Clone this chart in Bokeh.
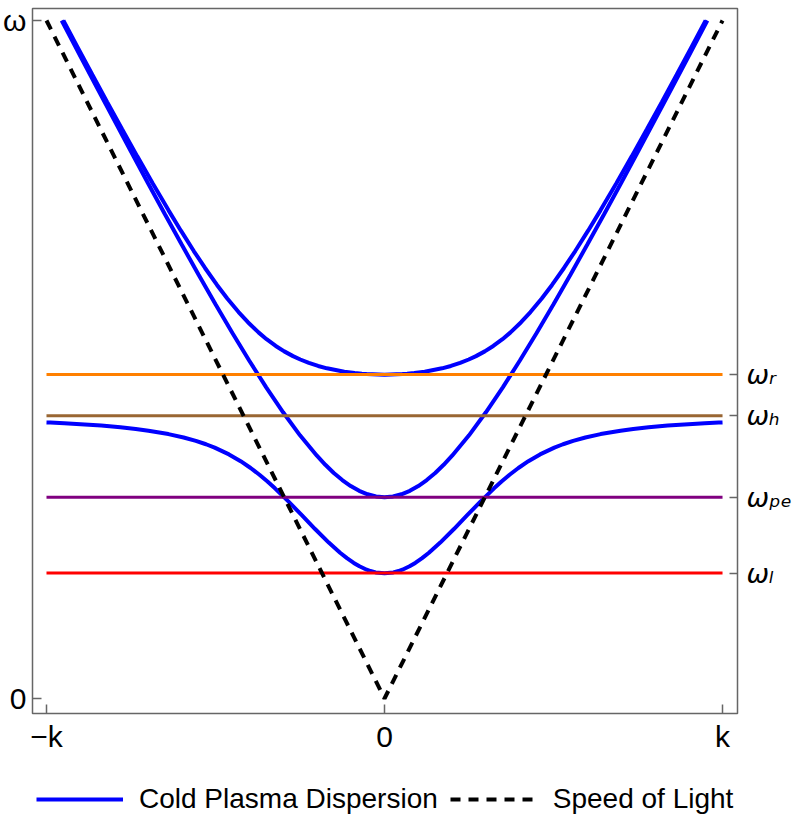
from bokeh.plotting import figure
from bokeh.layouts import column
from bokeh.models import (Range1d, LinearAxis, FixedTicker, Legend, LegendItem)
from bokeh.embed import file_html
from bokeh.resources import INLINE

# ---------------- data ----------------
k_ticks = [-1, 0, 1]
k_tick_labels = ["\u2212k", "0", "k"]
omega_ticks = [0, 1]
omega_tick_labels = ["0", "\u03c9"]

# characteristic frequencies (horizontal lines) and their right-hand labels
level_values = [0.478, 0.417, 0.297, 0.185]
level_labels = ["\u03c9\u1d63", "\u03c9\u2095", "\u03c9\u209a\u2091", "\u03c9\u2097"]
level_colors = ["#FF8000", "#996633", "#800080", "#FF0000"]
level_k = [-1, 1]

# speed of light
light_k = [-1, 0, 1]
light_omega = [1, 0, 1]

# O-mode branch (starts at omega_pe)
o_k = [-0.955, -0.9, -0.85, -0.8, -0.75, -0.7, -0.65, -0.6, -0.55, -0.5, -0.45, -0.4, -0.35, -0.3, -0.25,
       -0.2, -0.175, -0.15, -0.125, -0.1, -0.075, -0.05, -0.025,
       0.0,
       0.025, 0.05, 0.075, 0.1, 0.125, 0.15, 0.175, 0.2,
       0.25, 0.3, 0.35, 0.4, 0.45, 0.5, 0.55, 0.6, 0.65, 0.7, 0.75, 0.8, 0.85, 0.9, 0.955]
o_omega = [1.0, 0.9477, 0.9004, 0.8534, 0.8067, 0.7604, 0.7146, 0.6695, 0.6251, 0.5816, 0.5392, 0.4982, 0.4590, 0.4222, 0.3882,
           0.3581, 0.3447, 0.3327, 0.3222, 0.3134, 0.3063, 0.3012, 0.2981,
           0.2970,
           0.2981, 0.3012, 0.3063, 0.3134, 0.3222, 0.3327, 0.3447, 0.3581,
           0.3882, 0.4222, 0.4590, 0.4982, 0.5392, 0.5816, 0.6251, 0.6695, 0.7146, 0.7604, 0.8067, 0.8534, 0.9004, 0.9477, 1.0]

# X-mode upper branch (starts at omega_r)
xu_k = [-0.9501, -0.9073, -0.8643, -0.8207, -0.7766, -0.7318, -0.6860, -0.6389, -0.6023, -0.5643, -0.5310, -0.4956,
        -0.4652, -0.4318, -0.4041, -0.3728, -0.3490, -0.3218, -0.2966, -0.2707, -0.2491, -0.2238, -0.1964, -0.1702,
        -0.1189, -0.0882, -0.0671, -0.0531,
        0.0,
        0.0531, 0.0671, 0.0882, 0.1189, 0.1702, 0.1964, 0.2238, 0.2491, 0.2707, 0.2966, 0.3218, 0.3490, 0.3728,
        0.4041, 0.4318, 0.4652, 0.4956, 0.5310, 0.5643, 0.6023, 0.6389, 0.6860, 0.7318, 0.7766, 0.8207, 0.8643,
        0.9073, 0.9501]
xu_omega = [1.0, 0.96, 0.92, 0.88, 0.84, 0.80, 0.76, 0.72, 0.69, 0.66, 0.635, 0.61,
            0.59, 0.57, 0.555, 0.54, 0.53, 0.52, 0.512, 0.505, 0.50, 0.495, 0.4905, 0.487,
            0.482, 0.480, 0.479, 0.4785,
            0.4777,
            0.4785, 0.479, 0.480, 0.482, 0.487, 0.4905, 0.495, 0.50, 0.505, 0.512, 0.52, 0.53, 0.54,
            0.555, 0.57, 0.59, 0.61, 0.635, 0.66, 0.69, 0.72, 0.76, 0.80, 0.84, 0.88, 0.92,
            0.96, 1.0]

# X-mode lower branch (starts at omega_l, tends to omega_h)
xl_k = [-1.0, -0.9888, -0.9474, -0.9113, -0.8379, -0.7813, -0.7359, -0.6984, -0.6393, -0.5943, -0.5581, -0.5281,
        -0.5025, -0.4601, -0.4256, -0.3961, -0.3700, -0.3462, -0.3241, -0.2830, -0.2440, -0.2054, -0.1649, -0.1314,
        -0.1112, -0.0910, -0.0741, -0.0527, -0.0416, -0.0262,
        0.0,
        0.0262, 0.0416, 0.0527, 0.0741, 0.0910, 0.1112, 0.1314, 0.1649, 0.2054, 0.2440, 0.2830, 0.3241, 0.3462,
        0.3700, 0.3961, 0.4256, 0.4601, 0.5025, 0.5281, 0.5581, 0.5943, 0.6393, 0.6984, 0.7359, 0.7813, 0.8379,
        0.9113, 0.9474, 0.9888, 1.0]
xl_omega = [0.4072, 0.407, 0.406, 0.405, 0.4025, 0.400, 0.3975, 0.395, 0.390, 0.385, 0.380, 0.375,
            0.370, 0.360, 0.350, 0.340, 0.330, 0.320, 0.310, 0.290, 0.270, 0.250, 0.230, 0.215,
            0.207, 0.200, 0.195, 0.190, 0.188, 0.186,
            0.1847,
            0.186, 0.188, 0.190, 0.195, 0.200, 0.207, 0.215, 0.230, 0.250, 0.270, 0.290, 0.310, 0.320,
            0.330, 0.340, 0.350, 0.360, 0.370, 0.375, 0.380, 0.385, 0.390, 0.395, 0.3975, 0.400, 0.4025,
            0.405, 0.406, 0.407, 0.4072]

legend_labels = ["Cold Plasma Dispersion", "Speed of Light"]

# ---------------- styling ----------------
FONT = "Liberation Sans"
BLUE = "#0000FF"
FRAME = "#666666"
x_start, x_end = -1.0414, 1.0443
y_start, y_end = -0.0221, 1.0177

fig = figure(width=797, height=770, output_backend="svg", toolbar_location=None,
             x_range=Range1d(x_start, x_end), y_range=Range1d(y_start, y_end),
             min_border_left=31, min_border_right=60, min_border_top=8, min_border_bottom=57)
fig.grid.grid_line_color = None
fig.outline_line_color = FRAME
fig.outline_line_width = 1.5
fig.background_fill_color = "white"
fig.border_fill_color = "white"

for ax in (fig.xaxis[0], fig.yaxis[0]):
    ax.axis_line_color = None
    ax.axis_label = None
    ax.major_tick_in = 9
    ax.major_tick_out = 0
    ax.minor_tick_line_color = None
    ax.major_tick_line_color = FRAME
    ax.major_tick_line_width = 1.5
    ax.major_label_text_font = FONT
    ax.major_label_text_font_size = "30px"
    ax.major_label_text_color = "black"

fig.xaxis[0].ticker = FixedTicker(ticks=k_ticks)
fig.xaxis[0].major_label_overrides = dict(zip(k_ticks, k_tick_labels))
fig.xaxis[0].major_label_standoff = 6
fig.yaxis[0].ticker = FixedTicker(ticks=omega_ticks)
fig.yaxis[0].major_label_overrides = dict(zip(omega_ticks, omega_tick_labels))
fig.yaxis[0].major_label_standoff = 6

right_axis = LinearAxis(ticker=FixedTicker(ticks=level_values),
                        major_label_overrides=dict(zip(level_values, level_labels)),
                        axis_line_color=None, major_tick_in=8, major_tick_out=0,
                        minor_tick_line_color=None, major_tick_line_color=FRAME,
                        major_tick_line_width=1.5, major_label_standoff=9,
                        major_label_text_font="DejaVu Sans", major_label_text_font_style="italic",
                        major_label_text_font_size="27px", major_label_text_color="black")
fig.add_layout(right_axis, "right")

# ---------------- glyphs ----------------
fig.line(o_k, o_omega, line_color=BLUE, line_width=4)
fig.line(xu_k, xu_omega, line_color=BLUE, line_width=4)
fig.line(xl_k, xl_omega, line_color=BLUE, line_width=4)

for val, col in zip(level_values, level_colors):
    fig.line(level_k, [val, val], line_color=col, line_width=3)

fig.line(light_k, light_omega, line_color="black", line_width=4, line_dash="10 8")

# ---------------- legend strip below the plot ----------------
# the strip's own ranges lie outside the data, so its lines only serve as legend samples
leg_fig = figure(width=797, height=60, output_backend="svg", toolbar_location=None,
                 x_range=Range1d(5, 6), y_range=Range1d(5, 6),
                 x_axis_location=None, y_axis_location=None,
                 min_border_left=0, min_border_right=0, min_border_top=0, min_border_bottom=0)
leg_fig.grid.grid_line_color = None
leg_fig.outline_line_color = None
leg_fig.background_fill_color = "white"
leg_fig.border_fill_color = "white"
leg_blue = leg_fig.line(o_k, o_omega, line_color=BLUE, line_width=4)
leg_light = leg_fig.line(light_k, light_omega, line_color="black", line_width=4, line_dash="10 8")

legend = Legend(items=[LegendItem(label=legend_labels[0], renderers=[leg_blue]),
                       LegendItem(label=legend_labels[1], renderers=[leg_light])],
                orientation="horizontal", location=(4, 15),
                glyph_width=87, glyph_height=20, label_standoff=16, spacing=12,
                padding=0, margin=0, border_line_color=None, background_fill_alpha=0,
                label_text_font=FONT, label_text_font_size="28px", label_text_color="black")
leg_fig.add_layout(legend)

p = column(fig, leg_fig, spacing=0)

open("out.html", "w").write(file_html(p, INLINE))
